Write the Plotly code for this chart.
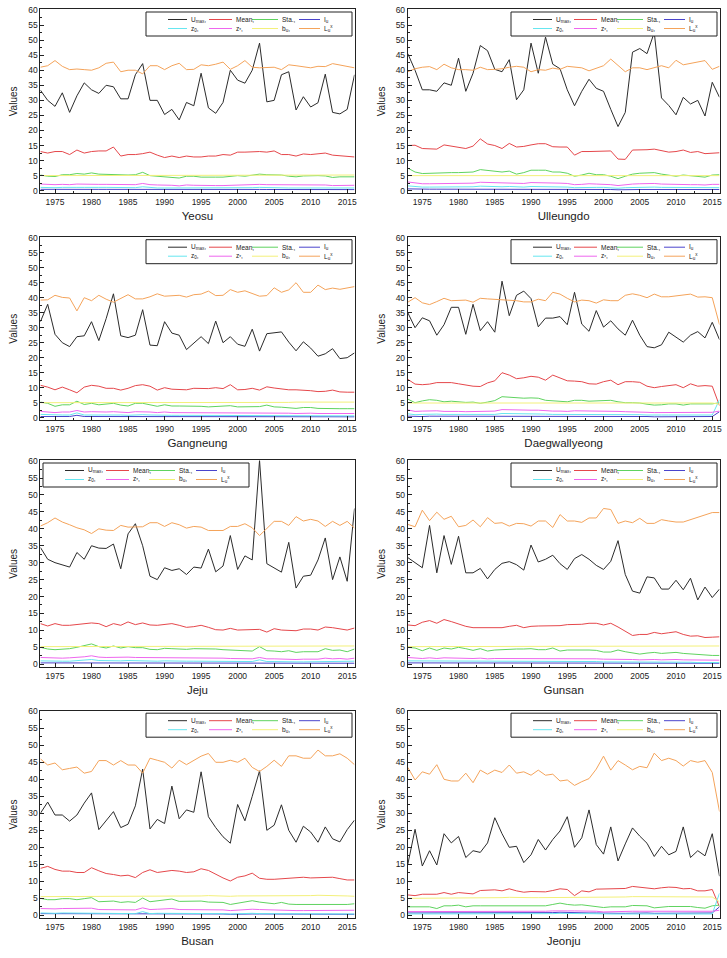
import plotly.graph_objects as go

years = list(range(1973, 2017))
stations = ["Yeosu", "Ulleungdo", "Gangneung", "Daegwallyeong", "Jeju", "Gunsan", "Busan", "Jeonju"]
series_labels = ["U<sub>max</sub>,", "Mean,", "Sta.,", "I<sub>u</sub>",
                 "z<sub>0</sub>,", "z<sub>*</sub>,", "b<sub>u</sub>,", "L<sub>u</sub><sup>x</sup>"]
y_ticks = list(range(0, 61, 5))
x_ticks = list(range(1975, 2016, 5))

# ---------------- Yeosu ----------------
yeosu_umax = [33.4, 30.0, 28.0, 32.5, 26.0, 31.5, 35.8, 33.5, 32.3, 35.0,
              34.5, 30.5, 30.5, 38.5, 42.2, 30.0, 30.0, 25.3, 27.0, 23.5,
              29.3, 28.2, 39.0, 27.5, 25.7, 29.3, 40.0, 36.7, 35.7, 40.0,
              49.0, 29.5, 30.0, 38.5, 39.5, 26.8, 31.2, 27.8, 29.2, 38.7,
              26.0, 25.5, 27.0, 38.5]
yeosu_mean = [13.0, 12.5, 13.0, 13.0, 12.0, 13.5, 12.5, 13.0, 13.2, 13.2,
              14.5, 11.5, 12.0, 12.0, 12.3, 12.8, 11.8, 11.0, 11.5, 11.0,
              11.5, 11.2, 11.2, 11.5, 11.5, 12.0, 11.8, 12.8, 12.8, 13.0,
              13.0, 12.8, 13.2, 12.0, 12.0, 11.5, 12.2, 12.0, 12.2, 12.5,
              11.8, 11.6, 11.2, 11.2]
yeosu_sta = [5.2, 4.8, 4.7, 5.3, 5.3, 5.7, 5.5, 5.9, 5.5, 5.4,
             5.4, 5.3, 5.2, 5.3, 6.1, 5.0, 4.8, 4.8, 4.5, 4.2,
             4.8, 4.8, 4.5, 4.6, 4.5, 4.5, 4.8, 5.0, 4.8, 5.2,
             5.5, 5.3, 5.3, 5.2, 4.8, 4.6, 4.9, 5.0, 5.0, 4.9,
             4.4, 4.6, 4.6, 4.6]
yeosu_iu = [0.45, 0.42, 0.40, 0.43, 0.40, 0.44, 0.43, 0.45, 0.43, 0.43,
            0.44, 0.40, 0.41, 0.41, 0.46, 0.40, 0.39, 0.38, 0.37, 0.35,
            0.38, 0.37, 0.36, 0.37, 0.36, 0.36, 0.38, 0.39, 0.38, 0.40,
            0.41, 0.40, 0.41, 0.40, 0.38, 0.37, 0.38, 0.39, 0.39, 0.38,
            0.36, 0.37, 0.37, 0.37]
yeosu_z0 = [1.1, 1.0, 1.0, 1.1, 1.0, 1.1, 1.1, 1.2, 1.1, 1.1,
            1.1, 1.0, 1.0, 1.0, 1.3, 1.0, 0.9, 0.9, 0.9, 0.8,
            0.9, 0.9, 0.9, 0.9, 0.9, 0.9, 0.9, 1.0, 0.9, 1.0,
            1.1, 1.0, 1.0, 1.0, 0.9, 0.9, 0.9, 1.0, 1.0, 0.9,
            0.8, 0.9, 0.9, 0.9]
yeosu_zs = [2.2, 2.0, 2.0, 2.1, 2.0, 2.2, 2.1, 2.2, 2.1, 2.1,
            2.1, 2.0, 2.0, 2.0, 2.4, 2.0, 1.9, 1.9, 1.8, 1.6,
            1.9, 1.8, 1.7, 1.8, 1.7, 1.7, 1.8, 1.9, 1.9, 2.0,
            2.1, 2.0, 2.0, 2.0, 1.9, 1.8, 1.9, 1.9, 1.9, 1.9,
            1.7, 1.8, 1.8, 1.8]
yeosu_bu = [5.0, 5.0, 5.0, 5.1, 5.1, 5.1, 5.1, 5.1, 5.1, 5.1,
            5.1, 5.1, 5.1, 5.1, 5.2, 5.1, 5.1, 5.1, 5.1, 5.0,
            5.1, 5.1, 5.1, 5.1, 5.1, 5.1, 5.1, 5.1, 5.1, 5.2,
            5.2, 5.2, 5.2, 5.2, 5.2, 5.2, 5.2, 5.2, 5.2, 5.2,
            5.2, 5.2, 5.2, 5.2]
yeosu_lu = [41.0, 41.5, 43.2, 41.3, 40.2, 40.4, 40.2, 40.0, 40.8, 42.3,
            42.7, 39.5, 40.0, 40.0, 38.8, 41.5, 41.5, 40.2, 41.5, 42.3,
            40.2, 40.3, 41.8, 41.5, 42.0, 42.7, 40.3, 41.5, 43.2, 41.0,
            40.8, 41.0, 41.0, 40.2, 41.8, 41.5, 41.2, 40.8, 41.3, 41.2,
            42.2, 41.8, 41.2, 40.8]

# ---------------- Ulleungdo ----------------
ulleungdo_umax = [45.5, 40.0, 33.5, 33.5, 33.0, 35.8, 35.0, 44.0, 33.0, 39.0,
                  48.2, 46.5, 40.3, 39.5, 43.5, 30.2, 33.5, 49.0, 39.0, 51.0,
                  42.0, 40.5, 33.5, 28.2, 33.0, 37.0, 34.0, 33.0, 27.0, 21.3,
                  26.0, 46.0, 47.2, 45.5, 52.5, 30.8, 28.3, 25.2, 31.0, 28.8,
                  30.0, 24.8, 36.0, 31.0]
ulleungdo_mean = [15.0, 15.1, 14.0, 14.0, 13.8, 15.2, 14.8, 14.5, 14.0, 14.8,
                  17.2, 15.5, 15.0, 14.0, 15.7, 14.5, 14.7, 15.2, 15.6, 15.6,
                  14.6, 14.5, 14.5, 11.8, 13.0, 13.0, 13.0, 13.0, 13.2, 10.5,
                  10.4, 13.5, 13.5, 13.6, 13.8, 13.3, 12.8, 13.0, 13.5, 12.7,
                  13.0, 12.3, 12.5, 12.6]
ulleungdo_sta = [7.5, 6.2, 5.7, 5.8, 6.0, 6.0, 6.0, 6.0, 6.0, 6.2,
                 7.0, 6.8, 6.5, 6.2, 6.5, 5.5, 6.0, 6.8, 6.8, 6.8,
                 6.2, 6.2, 5.8, 4.8, 5.2, 5.8, 5.3, 5.3, 4.8, 4.0,
                 4.8, 5.5, 5.8, 6.0, 6.0, 5.5, 5.2, 4.8, 5.2, 5.0,
                 4.8, 4.5, 5.2, 5.3]
ulleungdo_iu = [0.6, 0.5, 0.5, 0.5, 0.5, 0.5, 0.5, 0.5, 0.5, 0.5,
                0.6, 0.5, 0.5, 0.5, 0.5, 0.5, 0.5, 0.5, 0.5, 0.5,
                0.5, 0.5, 0.5, 0.4, 0.4, 0.4, 0.4, 0.4, 0.4, 0.3,
                0.4, 0.4, 0.4, 0.4, 0.4, 0.4, 0.4, 0.4, 0.4, 0.4,
                0.4, 0.4, 0.4, 0.4]
ulleungdo_z0 = [1.6, 1.3, 1.2, 1.2, 1.2, 1.3, 1.3, 1.3, 1.2, 1.3,
                1.5, 1.4, 1.3, 1.3, 1.4, 1.2, 1.2, 1.4, 1.4, 1.4,
                1.3, 1.3, 1.2, 1.0, 1.1, 1.2, 1.1, 1.1, 1.0, 0.8,
                1.0, 1.1, 1.2, 1.2, 1.2, 1.1, 1.1, 1.0, 1.1, 1.0,
                1.0, 0.9, 1.0, 1.0]
ulleungdo_zs = [2.9, 2.5, 2.3, 2.3, 2.3, 2.4, 2.4, 2.4, 2.4, 2.5,
                2.8, 2.7, 2.6, 2.5, 2.6, 2.3, 2.4, 2.7, 2.7, 2.7,
                2.5, 2.5, 2.4, 2.0, 2.1, 2.3, 2.2, 2.2, 2.0, 1.7,
                2.0, 2.2, 2.3, 2.4, 2.4, 2.2, 2.1, 2.0, 2.1, 2.0,
                2.0, 1.9, 2.1, 2.1]
ulleungdo_bu = [5.0, 5.0, 5.0, 5.0, 5.0, 5.0, 5.0, 5.0, 5.0, 5.0,
                5.1, 5.0, 5.0, 5.0, 5.0, 5.0, 5.0, 5.1, 5.1, 5.1,
                5.0, 5.0, 5.0, 4.9, 5.0, 5.0, 5.0, 5.0, 5.0, 4.9,
                5.0, 5.0, 5.0, 5.0, 5.0, 5.0, 5.0, 5.0, 5.0, 5.0,
                5.0, 5.0, 5.0, 5.0]
ulleungdo_lu = [39.5, 40.5, 41.0, 41.2, 40.2, 42.0, 40.8, 40.2, 40.2, 40.0,
                41.0, 40.2, 40.3, 40.5, 41.0, 41.3, 41.0, 39.5, 40.2, 40.0,
                40.7, 40.3, 41.3, 41.0, 40.8, 39.8, 40.7, 41.5, 43.7, 41.5,
                39.5, 40.8, 40.8, 40.2, 40.8, 41.5, 40.8, 43.3, 41.8, 42.2,
                42.8, 43.2, 40.3, 41.3]

# ---------------- Gangneung ----------------
gangneung_umax = [32.0, 37.8, 27.8, 25.0, 23.7, 27.0, 27.3, 32.0, 25.7, 33.0,
                  41.3, 27.3, 26.7, 27.5, 36.0, 24.2, 24.0, 32.0, 28.2, 27.5,
                  22.7, 25.0, 27.0, 24.7, 32.2, 25.0, 27.0, 24.5, 23.8, 29.5,
                  22.2, 28.0, 28.2, 28.6, 25.2, 22.3, 25.3, 23.2, 20.5, 21.3,
                  23.0, 19.7, 20.0, 21.6]
gangneung_mean = [10.8, 10.2, 9.3, 10.2, 9.3, 8.3, 10.2, 10.8, 10.5, 9.8,
                  9.8, 9.2, 9.8, 10.7, 11.0, 10.5, 9.2, 10.0, 9.5, 9.5,
                  9.3, 9.8, 9.8, 9.7, 10.0, 9.7, 11.0, 9.3, 9.4, 9.8,
                  9.2, 10.3, 9.9, 9.6, 9.3, 9.3, 9.2, 9.0, 8.7, 8.8,
                  9.2, 8.6, 8.5, 8.5]
gangneung_sta = [5.2, 4.8, 3.8, 4.3, 4.3, 5.5, 4.4, 4.8, 4.3, 4.5,
                 4.8, 4.2, 3.9, 4.8, 4.8, 4.3, 3.8, 4.3, 3.9, 3.9,
                 3.9, 3.9, 3.8, 3.6, 3.8, 3.8, 4.0, 3.6, 3.6, 3.8,
                 3.7, 4.2, 3.6, 3.5, 3.3, 3.1, 3.4, 3.4, 3.1, 3.0,
                 3.1, 3.0, 3.0, 3.0]
gangneung_iu = [0.4, 0.4, 0.3, 0.4, 0.4, 0.8, 0.4, 0.4, 0.4, 0.4,
                0.4, 0.4, 0.3, 0.4, 0.4, 0.4, 0.3, 0.4, 0.3, 0.3,
                0.3, 0.3, 0.3, 0.3, 0.3, 0.3, 0.3, 0.3, 0.3, 0.3,
                0.3, 0.3, 0.3, 0.3, 0.3, 0.3, 0.3, 0.3, 0.3, 0.3,
                0.3, 0.3, 0.3, 0.3]
gangneung_z0 = [1.1, 1.0, 0.8, 0.9, 0.9, 1.6, 0.9, 1.0, 0.9, 0.9,
                1.0, 0.9, 0.8, 1.0, 1.0, 0.9, 0.8, 0.9, 0.8, 0.8,
                0.8, 0.8, 0.8, 0.8, 0.8, 0.8, 0.8, 0.7, 0.7, 0.8,
                0.7, 0.8, 0.7, 0.7, 0.7, 0.6, 0.7, 0.7, 0.6, 0.6,
                0.6, 0.6, 0.6, 0.6]
gangneung_zs = [2.1, 2.0, 1.7, 1.9, 1.9, 2.4, 1.9, 2.0, 1.9, 1.9,
                2.0, 1.8, 1.7, 2.0, 2.0, 1.9, 1.7, 1.9, 1.7, 1.7,
                1.7, 1.7, 1.7, 1.6, 1.7, 1.7, 1.7, 1.6, 1.6, 1.7,
                1.6, 1.7, 1.6, 1.6, 1.5, 1.4, 1.5, 1.5, 1.4, 1.4,
                1.4, 1.4, 1.4, 1.4]
gangneung_bu = [5.0, 5.0, 4.9, 5.0, 5.0, 5.1, 5.0, 5.0, 5.0, 5.0,
                5.0, 5.0, 5.0, 5.0, 5.0, 5.0, 5.0, 5.0, 5.0, 5.0,
                5.0, 5.0, 5.0, 5.1, 5.1, 5.1, 5.1, 5.1, 5.1, 5.1,
                5.1, 5.1, 5.1, 5.1, 5.1, 5.2, 5.2, 5.2, 5.2, 5.2,
                5.2, 5.2, 5.2, 5.2]
gangneung_lu = [39.2, 39.3, 40.8, 40.1, 39.9, 35.6, 40.0, 39.0, 40.8, 39.5,
                38.5, 39.8, 41.0, 39.6, 39.6, 40.3, 41.3, 40.5, 40.7, 40.8,
                40.2, 41.0, 41.2, 42.2, 40.7, 40.8, 42.7, 41.8, 42.3, 41.3,
                40.5, 40.7, 43.3, 41.8, 42.6, 45.0, 41.8, 41.8, 44.2, 42.7,
                43.2, 42.8, 43.2, 43.7]

# ---------------- Daegwallyeong ----------------
daegwallyeong_umax = [35.0, 30.0, 33.3, 32.3, 27.5, 31.0, 36.8, 36.8, 27.8, 37.8,
                      29.0, 32.0, 28.5, 45.5, 34.0, 40.8, 42.2, 39.7, 30.3, 33.2,
                      33.2, 33.7, 31.0, 41.8, 31.2, 28.8, 35.7, 30.2, 32.3, 29.6,
                      27.5, 32.5, 27.5, 23.7, 23.3, 24.3, 28.5, 26.8, 25.2, 27.5,
                      28.7, 26.6, 31.8, 26.0]
daegwallyeong_mean = [12.8, 11.2, 11.0, 11.2, 11.7, 11.8, 11.7, 11.3, 10.8, 10.5,
                      10.4, 11.6, 12.3, 15.0, 14.2, 13.0, 13.3, 13.8, 13.5, 12.5,
                      14.2, 13.2, 12.3, 12.2, 12.0, 11.3, 11.2, 12.0, 12.5, 11.0,
                      12.0, 12.0, 11.8, 10.5, 10.0, 10.4, 10.6, 11.0, 10.0, 11.3,
                      10.5, 10.7, 10.5, 4.0]
daegwallyeong_sta = [6.2, 5.0, 5.6, 6.0, 5.8, 5.3, 5.5, 5.2, 5.1, 5.2,
                     4.8, 5.2, 5.7, 7.0, 6.8, 6.5, 6.5, 6.6, 6.5, 5.8,
                     5.7, 5.5, 5.3, 5.8, 5.8, 5.5, 5.6, 5.5, 5.8, 5.3,
                     5.0, 5.0, 4.9, 4.5, 4.2, 4.3, 4.6, 4.6, 4.2, 4.6,
                     4.6, 4.6, 4.6, 5.0]
daegwallyeong_iu = [0.5, 0.4, 0.4, 0.5, 0.5, 0.4, 0.4, 0.4, 0.4, 0.4,
                    0.4, 0.4, 0.5, 0.6, 0.6, 0.5, 0.5, 0.5, 0.5, 0.5,
                    0.5, 0.4, 0.4, 0.5, 0.5, 0.4, 0.4, 0.4, 0.5, 0.4,
                    0.4, 0.4, 0.4, 0.4, 0.3, 0.3, 0.4, 0.4, 0.3, 0.4,
                    0.4, 0.4, 0.4, 2.0]
daegwallyeong_z0 = [1.3, 1.0, 1.1, 1.2, 1.2, 1.1, 1.1, 1.0, 1.0, 1.0,
                    1.0, 1.0, 1.1, 1.4, 1.4, 1.3, 1.3, 1.3, 1.3, 1.2,
                    1.1, 1.1, 1.1, 1.2, 1.2, 1.1, 1.1, 1.1, 1.2, 1.1,
                    1.0, 1.0, 1.0, 0.9, 0.8, 0.9, 0.9, 0.9, 0.8, 0.9,
                    0.9, 0.9, 0.9, 6.0]
daegwallyeong_zs = [2.6, 2.1, 2.2, 2.3, 2.3, 2.1, 2.2, 2.1, 2.0, 2.1,
                    2.0, 2.1, 2.2, 2.7, 2.6, 2.5, 2.5, 2.5, 2.5, 2.3,
                    2.2, 2.2, 2.1, 2.3, 2.3, 2.2, 2.2, 2.2, 2.3, 2.1,
                    2.0, 2.0, 2.0, 1.8, 1.7, 1.7, 1.8, 1.8, 1.7, 1.8,
                    1.8, 1.8, 1.8, 2.2]
daegwallyeong_bu = [4.9, 4.9, 4.9, 4.9, 4.9, 4.9, 4.9, 4.9, 4.9, 4.9,
                    4.9, 4.9, 4.9, 5.0, 5.0, 5.0, 5.0, 5.0, 5.0, 4.9,
                    4.9, 4.9, 4.9, 4.9, 4.9, 4.9, 4.9, 4.9, 4.9, 4.9,
                    4.9, 4.9, 4.9, 4.9, 4.8, 4.8, 4.9, 4.9, 4.8, 4.9,
                    4.9, 4.9, 4.9, 4.5]
daegwallyeong_lu = [38.5, 40.0, 38.3, 37.7, 38.7, 39.8, 39.0, 39.2, 39.2, 38.5,
                    39.8, 39.6, 39.5, 39.3, 39.3, 39.0, 38.6, 38.6, 39.5, 39.0,
                    41.8, 41.2, 39.8, 38.6, 39.2, 39.0, 38.2, 39.3, 39.0, 39.0,
                    40.8, 41.3, 40.8, 40.0, 41.2, 40.3, 40.3, 40.6, 41.0, 41.2,
                    40.2, 40.3, 40.0, 31.0]

# ---------------- Jeju ----------------
jeju_umax = [34.5, 31.0, 30.0, 29.3, 28.7, 33.0, 31.0, 35.0, 34.3, 34.2,
             35.5, 28.2, 38.5, 41.5, 35.0, 26.0, 25.0, 28.5, 27.7, 28.2,
             26.5, 28.7, 28.4, 34.0, 27.3, 29.0, 38.0, 28.0, 32.0, 30.8,
             60.2, 29.7, 28.5, 27.2, 36.0, 22.5, 26.0, 26.3, 30.8, 37.3,
             25.0, 31.7, 24.5, 46.0]
jeju_mean = [12.0, 11.3, 12.0, 11.5, 11.5, 11.8, 12.0, 12.2, 12.0, 11.1,
             12.0, 11.5, 12.5, 11.7, 12.2, 11.6, 11.5, 11.8, 12.0, 11.5,
             10.9, 11.1, 11.5, 10.9, 10.2, 10.1, 10.6, 10.1, 10.1, 10.1,
             10.3, 9.5, 10.5, 10.1, 10.1, 9.9, 10.4, 10.4, 10.1, 11.0,
             10.8, 10.5, 10.1, 10.7]
jeju_sta = [5.0, 4.5, 4.3, 4.4, 4.6, 5.0, 5.5, 6.0, 5.2, 4.8,
            5.4, 4.8, 5.2, 4.9, 4.9, 4.4, 4.3, 4.7, 4.6, 4.4,
            4.4, 4.6, 4.6, 4.6, 4.5, 4.3, 4.2, 4.1, 3.9, 3.9,
            5.2, 4.0, 3.9, 3.7, 4.0, 3.5, 3.7, 3.7, 3.7, 4.6,
            4.1, 4.2, 3.7, 4.5]
jeju_iu = [0.4, 0.4, 0.3, 0.3, 0.4, 0.4, 0.4, 0.5, 0.4, 0.4,
           0.4, 0.4, 0.4, 0.4, 0.4, 0.3, 0.3, 0.4, 0.4, 0.3,
           0.3, 0.4, 0.4, 0.4, 0.3, 0.3, 0.3, 0.3, 0.3, 0.3,
           0.4, 0.3, 0.3, 0.3, 0.3, 0.3, 0.3, 0.3, 0.3, 0.3,
           0.3, 0.3, 0.3, 0.3]
jeju_z0 = [1.0, 0.9, 0.9, 0.9, 0.9, 1.0, 1.1, 1.4, 1.1, 1.0,
           1.1, 1.0, 1.1, 1.0, 1.0, 0.9, 0.9, 1.0, 0.9, 0.9,
           0.9, 0.9, 0.9, 0.9, 0.9, 0.9, 0.8, 0.8, 0.8, 0.8,
           1.3, 0.8, 0.8, 0.7, 0.8, 0.7, 0.7, 0.7, 0.7, 0.9,
           0.8, 0.8, 0.7, 0.9]
jeju_zs = [2.0, 1.9, 1.8, 1.8, 1.9, 2.0, 2.2, 2.5, 2.1, 2.0,
           2.1, 2.0, 2.1, 2.0, 2.0, 1.9, 1.8, 1.9, 1.9, 1.8,
           1.8, 1.9, 1.9, 1.9, 1.8, 1.8, 1.7, 1.7, 1.6, 1.6,
           2.0, 1.6, 1.6, 1.5, 1.6, 1.4, 1.5, 1.5, 1.5, 1.8,
           1.6, 1.7, 1.5, 1.8]
jeju_bu = [5.2, 5.2, 5.2, 5.2, 5.2, 5.2, 5.3, 5.3, 5.3, 5.2,
           5.3, 5.2, 5.3, 5.2, 5.2, 5.2, 5.2, 5.2, 5.2, 5.2,
           5.2, 5.2, 5.2, 5.2, 5.2, 5.2, 5.2, 5.2, 5.2, 5.2,
           5.3, 5.3, 5.3, 5.3, 5.3, 5.3, 5.4, 5.4, 5.4, 5.4,
           5.4, 5.4, 5.4, 5.4]
jeju_lu = [40.8, 41.8, 43.2, 42.0, 41.2, 40.3, 39.7, 38.6, 40.0, 39.6,
           39.5, 41.0, 40.5, 40.5, 40.6, 41.8, 41.8, 40.7, 41.8, 41.2,
           40.2, 40.7, 40.5, 39.5, 39.5, 39.5, 40.7, 40.7, 41.5, 40.3,
           38.0, 40.2, 42.2, 42.2, 41.0, 43.6, 42.3, 42.8, 42.3, 40.7,
           42.2, 41.0, 42.2, 40.2]

# ---------------- Gunsan ----------------
gunsan_umax = [31.5, 30.0, 28.5, 41.0, 27.0, 38.0, 29.5, 37.8, 27.0, 27.0,
               28.3, 25.2, 28.0, 29.8, 30.3, 29.4, 27.8, 35.2, 30.2, 31.0,
               32.2, 29.7, 28.0, 31.2, 32.4, 31.0, 29.2, 28.0, 30.4, 36.5,
               26.5, 21.6, 21.0, 25.8, 25.5, 22.2, 22.2, 24.8, 22.0, 25.4,
               19.0, 22.8, 19.7, 22.2]
gunsan_mean = [11.6, 11.4, 12.4, 12.9, 12.1, 13.2, 12.6, 11.9, 11.2, 10.8,
               10.8, 10.8, 10.7, 10.8, 11.2, 11.5, 10.8, 11.2, 11.3, 11.3,
               11.4, 11.4, 11.7, 11.7, 11.8, 12.1, 12.1, 11.6, 12.1, 11.0,
               9.8, 8.5, 8.8, 8.8, 9.4, 9.0, 9.3, 9.6, 8.8, 8.3,
               8.4, 7.9, 8.0, 8.1]
gunsan_sta = [5.0, 4.8, 4.0, 4.8, 4.1, 4.8, 4.5, 5.0, 4.6, 4.1,
              4.6, 3.9, 4.2, 4.3, 4.6, 4.5, 4.5, 4.6, 4.3, 4.3,
              4.8, 3.9, 4.2, 4.2, 4.4, 4.2, 4.1, 3.6, 3.6, 4.2,
              3.7, 3.3, 3.0, 3.3, 3.5, 3.2, 3.4, 3.5, 3.2, 3.0,
              2.9, 2.6, 2.6, 2.6]
gunsan_iu = [0.4, 0.4, 0.3, 0.4, 0.3, 0.4, 0.4, 0.4, 0.4, 0.3,
             0.4, 0.3, 0.3, 0.4, 0.4, 0.4, 0.4, 0.4, 0.3, 0.3,
             0.4, 0.3, 0.3, 0.3, 0.3, 0.3, 0.3, 0.3, 0.3, 0.3,
             0.3, 0.3, 0.3, 0.3, 0.3, 0.3, 0.3, 0.3, 0.3, 0.3,
             0.3, 0.3, 0.3, 0.3]
gunsan_z0 = [1.0, 1.0, 0.8, 1.0, 0.8, 1.0, 0.9, 1.0, 0.9, 0.8,
             0.9, 0.8, 0.8, 0.9, 0.9, 0.9, 0.9, 0.9, 0.9, 0.9,
             0.9, 0.8, 0.8, 0.8, 0.9, 0.8, 0.8, 0.7, 0.7, 0.8,
             0.7, 0.6, 0.6, 0.6, 0.7, 0.6, 0.6, 0.7, 0.6, 0.6,
             0.5, 0.5, 0.5, 0.5]
gunsan_zs = [2.0, 1.9, 1.7, 1.9, 1.7, 1.9, 1.8, 1.9, 1.8, 1.7,
             1.8, 1.6, 1.7, 1.7, 1.8, 1.8, 1.8, 1.8, 1.7, 1.7,
             1.8, 1.6, 1.7, 1.7, 1.7, 1.7, 1.6, 1.5, 1.5, 1.6,
             1.5, 1.4, 1.3, 1.4, 1.4, 1.3, 1.4, 1.4, 1.3, 1.3,
             1.2, 1.2, 1.2, 1.2]
gunsan_bu = [5.2, 5.2, 5.2, 5.2, 5.2, 5.2, 5.2, 5.2, 5.2, 5.2,
             5.2, 5.2, 5.2, 5.2, 5.2, 5.2, 5.2, 5.2, 5.2, 5.3,
             5.3, 5.3, 5.3, 5.3, 5.3, 5.3, 5.3, 5.3, 5.3, 5.3,
             5.3, 5.3, 5.3, 5.3, 5.3, 5.3, 5.4, 5.4, 5.4, 5.4,
             5.4, 5.4, 5.4, 5.4]
gunsan_lu = [41.3, 40.6, 45.5, 42.4, 44.9, 42.8, 43.7, 40.6, 41.0, 42.6,
             40.6, 43.3, 41.6, 41.8, 40.8, 41.6, 41.5, 40.8, 42.3, 42.3,
             40.4, 44.2, 42.3, 42.3, 41.9, 43.2, 43.2, 46.0, 45.7, 41.6,
             42.3, 41.8, 43.1, 41.6, 41.6, 42.7, 42.3, 42.0, 42.0, 42.7,
             43.6, 44.2, 44.8, 44.8]

# ---------------- Busan ----------------
busan_umax = [30.0, 33.3, 29.5, 29.5, 27.7, 29.5, 33.0, 36.0, 25.2, 27.8,
              30.5, 25.8, 26.8, 32.2, 43.0, 25.4, 28.2, 27.0, 38.0, 28.4,
              31.0, 30.3, 42.2, 29.0, 25.8, 23.1, 21.2, 32.6, 27.8, 35.0,
              42.5, 25.0, 26.5, 32.5, 25.0, 21.5, 26.2, 24.5, 21.5, 26.0,
              22.5, 21.6, 25.2, 28.0]
busan_mean = [13.8, 14.4, 13.5, 13.0, 13.0, 12.6, 12.6, 14.0, 13.1, 12.3,
              12.0, 11.6, 11.8, 11.1, 12.6, 13.4, 12.6, 13.0, 13.2, 13.0,
              12.6, 12.8, 13.7, 13.2, 12.0, 11.0, 10.1, 11.2, 11.6, 12.4,
              10.9, 10.6, 10.6, 10.7, 11.0, 11.0, 11.2, 11.0, 11.0, 11.0,
              11.2, 10.8, 10.4, 10.4]
busan_sta = [5.0, 4.6, 4.6, 4.9, 4.9, 4.6, 4.9, 5.2, 4.0, 4.0,
             4.2, 3.8, 4.0, 3.8, 5.1, 4.0, 4.2, 4.4, 4.8, 4.1,
             4.1, 4.1, 4.2, 3.9, 3.8, 3.8, 3.2, 3.6, 3.8, 4.3,
             3.9, 3.6, 3.4, 3.8, 3.3, 3.2, 3.2, 3.2, 3.1, 3.1,
             3.2, 3.1, 3.2, 3.4]
busan_iu = [0.5, 0.5, 0.5, 0.5, 0.5, 0.5, 0.5, 0.5, 0.4, 0.4,
            0.4, 0.4, 0.4, 0.4, 0.6, 0.4, 0.4, 0.4, 0.5, 0.4,
            0.4, 0.4, 0.4, 0.4, 0.4, 0.4, 0.3, 0.4, 0.4, 0.4,
            0.4, 0.4, 0.3, 0.4, 0.3, 0.3, 0.3, 0.3, 0.3, 0.3,
            0.3, 0.3, 0.3, 0.3]
busan_z0 = [0.7, 0.6, 0.6, 0.7, 0.7, 0.6, 0.7, 0.7, 0.5, 0.5,
            0.6, 0.5, 0.5, 0.5, 1.1, 0.5, 0.6, 0.6, 0.7, 0.6,
            0.6, 0.6, 0.6, 0.5, 0.5, 0.5, 0.4, 0.5, 0.5, 0.6,
            0.5, 0.5, 0.4, 0.5, 0.4, 0.4, 0.4, 0.4, 0.4, 0.4,
            0.4, 0.4, 0.4, 0.4]
busan_zs = [2.0, 1.9, 1.9, 2.0, 2.0, 1.9, 2.0, 2.1, 1.7, 1.7,
            1.8, 1.6, 1.7, 1.6, 2.2, 1.7, 1.8, 1.8, 2.0, 1.7,
            1.7, 1.7, 1.8, 1.7, 1.6, 1.6, 1.4, 1.6, 1.6, 1.8,
            1.7, 1.6, 1.5, 1.6, 1.5, 1.4, 1.4, 1.4, 1.4, 1.4,
            1.4, 1.4, 1.4, 1.5]
busan_bu = [5.5, 5.5, 5.5, 5.5, 5.5, 5.5, 5.5, 5.5, 5.6, 5.6,
            5.6, 5.6, 5.6, 5.6, 5.6, 5.6, 5.6, 5.6, 5.7, 5.7,
            5.7, 5.7, 5.7, 5.8, 5.7, 5.7, 5.6, 5.7, 5.7, 5.7,
            5.6, 5.6, 5.7, 5.7, 5.7, 5.8, 5.8, 5.8, 5.9, 5.9,
            5.8, 5.8, 5.7, 5.6]
busan_lu = [46.0, 44.2, 44.8, 42.8, 43.2, 43.6, 41.8, 42.3, 45.5, 45.5,
            44.2, 45.5, 44.2, 44.2, 41.8, 46.2, 45.6, 45.0, 43.3, 45.6,
            44.3, 45.5, 46.8, 47.6, 45.0, 45.0, 45.6, 45.0, 46.2, 43.5,
            42.3, 43.8, 45.6, 43.8, 46.9, 46.9, 46.2, 46.2, 48.6, 46.9,
            46.9, 47.5, 46.2, 44.3]

# ---------------- Jeonju ----------------
jeonju_umax = [15.0, 25.3, 14.5, 19.0, 14.8, 24.0, 21.3, 23.2, 17.0, 19.0,
               18.5, 21.3, 28.7, 24.0, 20.0, 20.3, 15.5, 17.8, 22.3, 19.2,
               22.3, 24.8, 29.0, 20.0, 22.8, 31.0, 20.8, 18.0, 26.0, 16.0,
               21.0, 25.7, 23.3, 21.2, 17.3, 20.3, 17.8, 18.8, 26.0, 17.0,
               19.0, 17.5, 24.0, 11.5]
jeonju_mean = [6.0, 5.8, 6.2, 6.2, 6.2, 6.7, 6.2, 6.7, 6.5, 6.3,
               7.3, 7.5, 7.5, 7.2, 7.8, 7.2, 6.8, 7.0, 7.0, 6.9,
               7.3, 7.8, 7.6, 5.8, 7.2, 6.9, 7.7, 7.7, 7.7, 7.7,
               7.9, 8.5, 8.3, 8.1, 7.8, 8.1, 8.3, 8.2, 7.8, 7.9,
               7.2, 7.2, 7.6, 2.5]
jeonju_sta = [2.5, 2.5, 2.5, 2.5, 2.0, 2.8, 2.8, 3.0, 2.5, 2.8,
              2.8, 2.8, 2.6, 2.6, 2.7, 2.6, 2.7, 2.8, 2.6, 2.8,
              3.2, 3.6, 3.2, 3.0, 3.1, 2.8, 2.7, 2.3, 2.5, 2.5,
              2.5, 2.9, 2.8, 2.8, 2.2, 2.5, 2.6, 2.6, 2.7, 2.6,
              2.3, 2.1, 2.8, 3.0]
jeonju_iu = [0.7, 0.7, 0.7, 0.7, 0.6, 0.7, 0.7, 0.8, 0.7, 0.7,
             0.7, 0.7, 0.7, 0.7, 0.7, 0.7, 0.7, 0.7, 0.7, 0.7,
             0.8, 0.9, 0.8, 0.8, 0.8, 0.7, 0.7, 0.6, 0.6, 0.6,
             0.6, 0.7, 0.7, 0.7, 0.6, 0.6, 0.6, 0.6, 0.6, 0.6,
             0.6, 0.6, 0.7, 2.5]
jeonju_z0 = [0.4, 0.4, 0.4, 0.4, 0.3, 0.5, 0.5, 0.5, 0.4, 0.5,
             0.5, 0.5, 0.4, 0.4, 0.4, 0.4, 0.4, 0.5, 0.4, 0.5,
             0.5, 0.6, 0.5, 0.5, 0.5, 0.5, 0.4, 0.4, 0.4, 0.4,
             0.4, 0.5, 0.4, 0.4, 0.3, 0.4, 0.4, 0.4, 0.4, 0.4,
             0.4, 0.3, 0.4, 6.5]
jeonju_zs = [1.1, 1.1, 1.1, 1.1, 1.0, 1.2, 1.2, 1.2, 1.1, 1.2,
             1.2, 1.2, 1.1, 1.1, 1.2, 1.1, 1.2, 1.2, 1.1, 1.2,
             1.3, 1.4, 1.3, 1.3, 1.3, 1.2, 1.2, 1.0, 1.1, 1.1,
             1.1, 1.2, 1.2, 1.2, 1.0, 1.1, 1.1, 1.1, 1.1, 1.1,
             1.0, 1.0, 1.2, 1.5]
jeonju_bu = [5.0, 5.0, 5.0, 5.0, 5.0, 5.1, 5.1, 5.1, 5.1, 5.1,
             5.2, 5.2, 5.2, 5.2, 5.3, 5.2, 5.2, 5.2, 5.2, 5.2,
             5.2, 5.3, 5.3, 5.2, 5.2, 5.2, 5.3, 5.3, 5.4, 5.4,
             5.4, 5.5, 5.5, 5.5, 5.5, 5.5, 5.5, 5.5, 5.5, 5.5,
             5.5, 5.5, 5.4, 4.0]
jeonju_lu = [43.5, 39.8, 42.2, 41.5, 44.3, 40.0, 39.5, 39.5, 41.8, 39.0,
             42.7, 41.5, 42.7, 42.0, 44.2, 41.8, 42.2, 41.2, 42.7, 41.2,
             41.5, 39.5, 39.8, 38.2, 39.3, 40.2, 43.0, 46.8, 42.7, 45.5,
             44.2, 42.8, 43.8, 43.4, 47.7, 45.5, 46.2, 45.5, 43.9, 45.5,
             45.0, 45.5, 42.0, 30.5]

station_series = [
    [yeosu_umax, yeosu_mean, yeosu_sta, yeosu_iu, yeosu_z0, yeosu_zs, yeosu_bu, yeosu_lu],
    [ulleungdo_umax, ulleungdo_mean, ulleungdo_sta, ulleungdo_iu, ulleungdo_z0, ulleungdo_zs, ulleungdo_bu, ulleungdo_lu],
    [gangneung_umax, gangneung_mean, gangneung_sta, gangneung_iu, gangneung_z0, gangneung_zs, gangneung_bu, gangneung_lu],
    [daegwallyeong_umax, daegwallyeong_mean, daegwallyeong_sta, daegwallyeong_iu, daegwallyeong_z0, daegwallyeong_zs, daegwallyeong_bu, daegwallyeong_lu],
    [jeju_umax, jeju_mean, jeju_sta, jeju_iu, jeju_z0, jeju_zs, jeju_bu, jeju_lu],
    [gunsan_umax, gunsan_mean, gunsan_sta, gunsan_iu, gunsan_z0, gunsan_zs, gunsan_bu, gunsan_lu],
    [busan_umax, busan_mean, busan_sta, busan_iu, busan_z0, busan_zs, busan_bu, busan_lu],
    [jeonju_umax, jeonju_mean, jeonju_sta, jeonju_iu, jeonju_z0, jeonju_zs, jeonju_bu, jeonju_lu],
]

# ---------------- styling / layout ----------------
COLORS = ["#2b2b2b", "#e5474b", "#5fd35f", "#4a44cc", "#66e6f0", "#ee66ee", "#f3f07a", "#f4a35a"]
W, H = 727, 958
COLS_PX = [(40.4, 354.5), (407.8, 719.5)]
ROWS_PX = [(9.4, 193.4), (237.1, 420.4), (460.4, 667.3), (710.6, 918.4)]
LEGEND_LEFT = {"Jeju"}
FONT = "Arial, Liberation Sans, sans-serif"

fig = go.Figure()
layout = dict(width=W, height=H, margin=dict(l=0, r=0, t=0, b=0),
              paper_bgcolor="white", plot_bgcolor="white", showlegend=False,
              font=dict(family=FONT, color="#222"))
shapes, annotations = [], []

LINE_START = [22, 63, 106, 153]
LINE_END = [41, 86, 132, 174]
ROW_Y = [7.5, 16.5]
BOX_W, BOX_H, BOX_TOP = 206, 24, 2.6

for k, name in enumerate(stations):
    idx = k + 1
    row, col = divmod(k, 2)
    x0, x1 = COLS_PX[col]
    y0, y1 = ROWS_PX[row]
    xa = "x" if idx == 1 else f"x{idx}"
    ya = "y" if idx == 1 else f"y{idx}"
    axis_common = dict(showline=True, linecolor="#222", linewidth=1, mirror=True,
                       ticks="inside", ticklen=4, tickcolor="#222", showgrid=False,
                       zeroline=False, automargin=False,
                       tickfont=dict(size=8.5, family=FONT, color="#222"),
                       minor=dict(ticks="inside", ticklen=2, dtick=2.5, tickcolor="#222"))
    layout["xaxis" if idx == 1 else f"xaxis{idx}"] = dict(
        axis_common, domain=[x0 / W, x1 / W], anchor=ya, range=[1973, 2016],
        tickvals=x_ticks, title=dict(text=name, font=dict(size=11.5, family=FONT, color="#222"), standoff=6))
    layout["yaxis" if idx == 1 else f"yaxis{idx}"] = dict(
        axis_common, domain=[1 - y1 / H, 1 - y0 / H], anchor=xa, range=[-0.9, 60.2],
        tickvals=y_ticks, title=dict(text="Values", font=dict(size=10, family=FONT, color="#222"), standoff=8))

    for s, vals in enumerate(station_series[k]):
        fig.add_trace(go.Scatter(x=years, y=vals, mode="lines", xaxis=xa, yaxis=ya,
                                 line=dict(color=COLORS[s], width=1), showlegend=False,
                                 name=series_labels[s]))

    # legend box drawn in axis-domain coordinates
    pw, ph = x1 - x0, y1 - y0
    bl = 2.6 if name in LEGEND_LEFT else pw - 2.5 - BOX_W
    fx = lambda px: px / pw
    fy = lambda py: 1 - py / ph
    xr, yr = f"{xa} domain", f"{ya} domain"
    shapes.append(dict(type="rect", xref=xr, yref=yr, x0=fx(bl), x1=fx(bl + BOX_W),
                       y0=fy(BOX_TOP + BOX_H), y1=fy(BOX_TOP),
                       line=dict(color="#222", width=1), fillcolor="white", layer="above"))
    for s, lab in enumerate(series_labels):
        r, c = divmod(s, 4)
        yy = fy(BOX_TOP + ROW_Y[r])
        shapes.append(dict(type="line", xref=xr, yref=yr, x0=fx(bl + LINE_START[c]),
                           x1=fx(bl + LINE_END[c]), y0=yy, y1=yy,
                           line=dict(color=COLORS[s], width=1), layer="above"))
        annotations.append(dict(xref=xr, yref=yr, x=fx(bl + LINE_END[c] + 2), y=yy,
                                text=lab, showarrow=False, xanchor="left", yanchor="middle",
                                font=dict(size=6.5, family=FONT, color="#222")))

layout["shapes"] = shapes
layout["annotations"] = annotations
fig.update_layout(**layout)
fig.write_html("out.html")
